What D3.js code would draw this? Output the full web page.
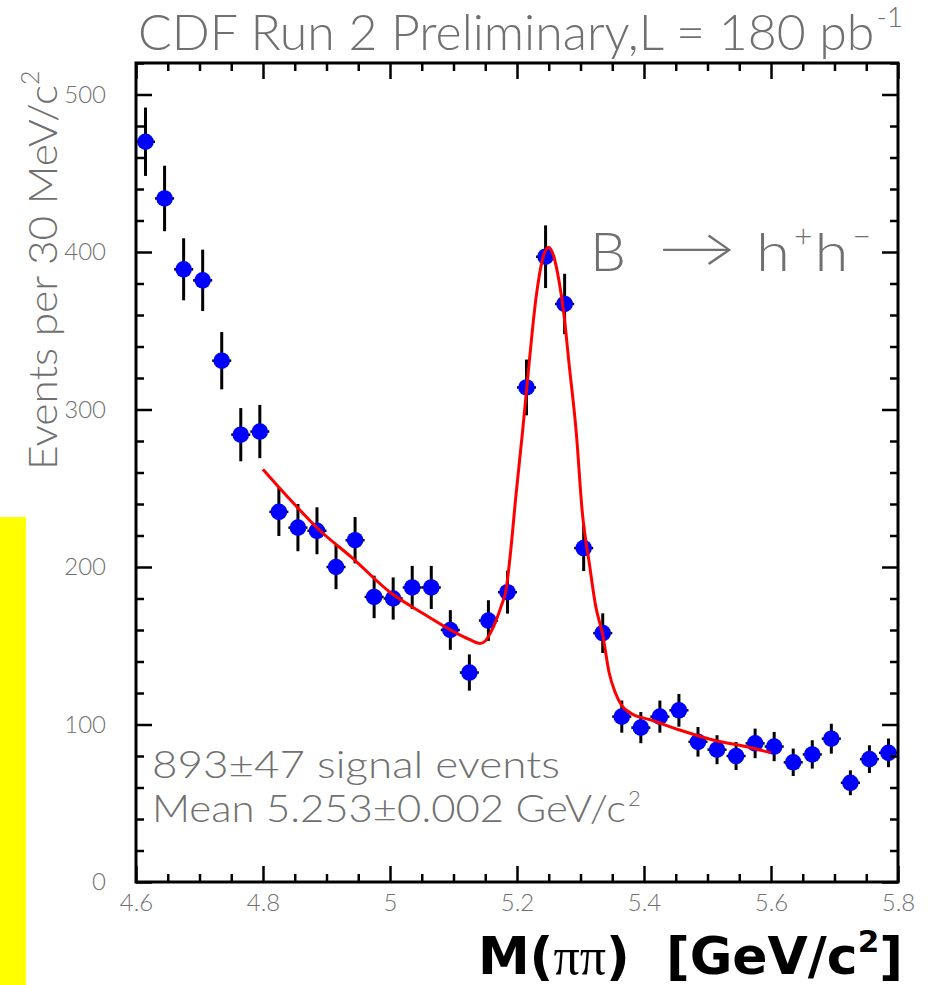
<!DOCTYPE html>
<html>
<head>
<meta charset="utf-8">
<script src="https://cdn.jsdelivr.net/npm/d3@7"></script>
<style>
  body { margin: 0; background: #ffffff; }
  svg text { font-family: Lato, "Open Sans", "DejaVu Sans", sans-serif; }
</style>
</head>
<body>
<svg id="chart" width="932" height="985"></svg>
<script>
// Di-pion invariant mass, B -> h+h-, 30 MeV bins
const binCenters = [4.615, 4.645, 4.675, 4.705, 4.735, 4.765, 4.795, 4.825, 4.855, 4.885,
                    4.915, 4.945, 4.975, 5.005, 5.035, 5.065, 5.095, 5.125, 5.155, 5.185,
                    5.215, 5.245, 5.275, 5.305, 5.335, 5.365, 5.395, 5.425, 5.455, 5.485,
                    5.515, 5.545, 5.575, 5.605, 5.635, 5.665, 5.695, 5.725, 5.755, 5.785];
const counts = [470, 434, 389, 382, 331, 284, 286, 235, 225, 223,
                200, 217, 181, 180, 187, 187, 160, 133, 166, 184,
                314, 397, 367, 212, 158, 105, 98, 105, 109, 89,
                84, 80, 88, 86, 76, 81, 91, 63, 78, 82];
const errors = [21.7, 20.8, 19.7, 19.5, 18.2, 16.9, 16.9, 15.3, 15.0, 14.9,
                14.1, 14.7, 13.5, 13.4, 13.7, 13.7, 12.6, 11.5, 12.9, 13.6,
                17.7, 19.9, 19.2, 14.6, 12.6, 10.2, 9.9, 10.2, 10.4, 9.4,
                9.2, 8.9, 9.4, 9.3, 8.7, 9.0, 9.5, 7.9, 8.8, 9.1];
const binWidth = 0.03;

// Fitted signal + background curve
const fitMass = [4.80, 4.84, 4.89, 4.94, 5.00, 5.05, 5.10, 5.125, 5.142, 5.150,
                 5.158, 5.166, 5.175, 5.183, 5.190, 5.198, 5.209, 5.219, 5.230, 5.240,
                 5.250, 5.258, 5.266, 5.274, 5.282, 5.293, 5.303, 5.314, 5.324, 5.335,
                 5.345, 5.355, 5.365, 5.38, 5.41, 5.46, 5.51, 5.56, 5.60];
const fitValue = [262, 244, 223, 206, 184, 171, 159, 154, 151.5, 153,
                  158, 165, 175, 186, 210, 244, 287, 329, 371, 395,
                  403, 397, 382, 360, 329, 287, 234, 202, 175, 157,
                  133, 120, 112, 107, 103, 96, 90, 86, 82];

const xTickValues = [4.6, 4.8, 5.0, 5.2, 5.4, 5.6, 5.8];
const xTickLabels = ["4.6", "4.8", "5", "5.2", "5.4", "5.6", "5.8"];
const yTickValues = [0, 100, 200, 300, 400, 500];
const yTickLabels = ["0", "100", "200", "300", "400", "500"];

const svg = d3.select("#chart");
const frameLeft = 136, frameRight = 898, frameTop = 63, frameBottom = 882;

const x = d3.scaleLinear().domain([4.6, 5.8]).range([frameLeft, frameRight]);
const y = d3.scaleLinear().domain([0, 520]).range([frameBottom, frameTop]);

// side marker strip
svg.append("rect").attr("x", 0).attr("y", 517).attr("width", 26).attr("height", 468)
  .attr("fill", "#ffff00");

const grey = "#707070";

// data points with error bars
const pts = binCenters.map((m, i) => ({ m, c: counts[i], e: errors[i] }));
const g = svg.append("g");
g.selectAll("line.ver").data(pts).join("line").attr("class", "ver")
  .attr("x1", d => x(d.m)).attr("x2", d => x(d.m))
  .attr("y1", d => y(d.c - d.e)).attr("y2", d => y(d.c + d.e))
  .attr("stroke", "#000").attr("stroke-width", 3);
g.selectAll("line.hor").data(pts).join("line").attr("class", "hor")
  .attr("x1", d => x(d.m - binWidth / 2)).attr("x2", d => x(d.m + binWidth / 2))
  .attr("y1", d => y(d.c)).attr("y2", d => y(d.c))
  .attr("stroke", "#000").attr("stroke-width", 2.5);
g.selectAll("circle").data(pts).join("circle")
  .attr("cx", d => x(d.m)).attr("cy", d => y(d.c)).attr("r", 8.3)
  .attr("fill", "#0000ff");

// fit curve
const fit = fitMass.map((m, i) => [m, fitValue[i]]);
svg.append("path").datum(fit)
  .attr("d", d3.line().x(d => x(d[0])).y(d => y(d[1])).curve(d3.curveMonotoneX))
  .attr("fill", "none").attr("stroke", "#ff0000").attr("stroke-width", 3);

// frame
svg.append("rect").attr("x", frameLeft).attr("y", frameTop)
  .attr("width", frameRight - frameLeft).attr("height", frameBottom - frameTop)
  .attr("fill", "none").attr("stroke", "#000").attr("stroke-width", 3);

// axes: major/minor ticks on all four sides, pointing inward
const majorLen = 16, minorLen = 8;
const xMinor = d3.range(4.6, 5.8001, 0.05).filter(v => Math.abs(Math.round(v * 5) - v * 5) > 1e-6);
const yMinor = d3.range(0, 520.01, 20).filter(v => v % 100 !== 0);

function styleAxis(sel) {
  sel.select(".domain").remove();
  sel.selectAll(".tick line").attr("stroke", "#000").attr("stroke-width", 2.5);
  sel.selectAll("text").attr("fill", grey).attr("font-size", 24).attr("font-weight", 300);
}

svg.append("g").attr("transform", `translate(0,${frameBottom})`)
  .call(d3.axisBottom(x).tickValues(xTickValues).tickSize(-majorLen).tickPadding(12)
    .tickFormat((d, i) => xTickLabels[i]))
  .call(styleAxis);
svg.append("g").attr("transform", `translate(0,${frameBottom})`)
  .call(d3.axisBottom(x).tickValues(xMinor).tickSize(-minorLen).tickFormat(""))
  .call(styleAxis);
svg.append("g").attr("transform", `translate(0,${frameTop})`)
  .call(d3.axisTop(x).tickValues(xTickValues).tickSize(-majorLen).tickFormat(""))
  .call(styleAxis);
svg.append("g").attr("transform", `translate(0,${frameTop})`)
  .call(d3.axisTop(x).tickValues(xMinor).tickSize(-minorLen).tickFormat(""))
  .call(styleAxis);

svg.append("g").attr("transform", `translate(${frameLeft},0)`)
  .call(d3.axisLeft(y).tickValues(yTickValues).tickSize(-majorLen).tickPadding(30)
    .tickFormat((d, i) => yTickLabels[i]))
  .call(styleAxis);
svg.append("g").attr("transform", `translate(${frameLeft},0)`)
  .call(d3.axisLeft(y).tickValues(yMinor).tickSize(-minorLen).tickFormat(""))
  .call(styleAxis);
svg.append("g").attr("transform", `translate(${frameRight},0)`)
  .call(d3.axisRight(y).tickValues(yTickValues).tickSize(-majorLen).tickFormat(""))
  .call(styleAxis);
svg.append("g").attr("transform", `translate(${frameRight},0)`)
  .call(d3.axisRight(y).tickValues(yMinor).tickSize(-minorLen).tickFormat(""))
  .call(styleAxis);

// title
const title = svg.append("text").attr("x", 138).attr("y", 50)
  .attr("fill", grey).attr("font-size", 50).attr("font-weight", 300);
title.append("tspan").text("CDF Run 2 Preliminary,L = 180 pb");
title.append("tspan").attr("dx", 2).attr("dy", -23).attr("font-size", 28).text("-1");

// y axis title
const yt = svg.append("text")
  .attr("transform", "translate(57,470) rotate(-90)")
  .attr("fill", grey).attr("font-size", 40).attr("font-weight", 300);
yt.append("tspan").attr("textLength", 385).attr("lengthAdjust", "spacingAndGlyphs")
  .text("Events per 30 MeV/c");
yt.append("tspan").attr("dy", -18).attr("font-size", 25).text("2");

// decay label
svg.append("text").attr("x", 590).attr("y", 271)
  .attr("fill", grey).attr("font-size", 54).attr("font-weight", 300)
  .attr("textLength", 36).attr("lengthAdjust", "spacingAndGlyphs").text("B");
svg.append("text").attr("x", 658).attr("y", 267)
  .attr("fill", grey).attr("font-size", 54).attr("font-weight", 300)
  .attr("textLength", 78).attr("lengthAdjust", "spacingAndGlyphs").text("\u2192");
const hh = svg.append("text").attr("x", 756).attr("y", 271)
  .attr("fill", grey).attr("font-size", 54).attr("font-weight", 300);
hh.append("tspan").attr("textLength", 34).attr("lengthAdjust", "spacingAndGlyphs").text("h");
hh.append("tspan").attr("dx", 4).attr("dy", -24).attr("font-size", 32).text("+");
hh.append("tspan").attr("dx", 2).attr("dy", 24)
  .attr("textLength", 34).attr("lengthAdjust", "spacingAndGlyphs").text("h");
hh.append("tspan").attr("dx", 4).attr("dy", -24).attr("font-size", 32).text("\u2212");

// fit results
svg.append("text").attr("x", 152).attr("y", 778)
  .attr("fill", grey).attr("font-size", 37).attr("font-weight", 300)
  .attr("textLength", 408).attr("lengthAdjust", "spacingAndGlyphs")
  .text("893\u00b147 signal events");
const mean = svg.append("text").attr("x", 152).attr("y", 822)
  .attr("fill", grey).attr("font-size", 37).attr("font-weight", 300);
mean.append("tspan").attr("textLength", 474).attr("lengthAdjust", "spacingAndGlyphs")
  .text("Mean 5.253\u00b10.002 GeV/c");
mean.append("tspan").attr("dx", 2).attr("dy", -16).attr("font-size", 22).text("2");

// bold axis label
const xl = svg.append("text").attr("x", 903).attr("y", 974).attr("text-anchor", "end")
  .attr("fill", "#000").attr("font-size", 52).attr("font-weight", "bold")
  .style("font-family", "'DejaVu Sans', Verdana, sans-serif");
xl.append("tspan").text("M(");
xl.append("tspan").style("font-family", "'Liberation Serif', 'Times New Roman', serif")
  .attr("font-weight", "normal").text("\u03c0\u03c0");
xl.append("tspan").text(")\u00a0 [GeV/c");
xl.append("tspan").attr("dy", -22).attr("font-size", 31).text("2");
xl.append("tspan").attr("dy", 22).text("]");
</script>
</body>
</html>
